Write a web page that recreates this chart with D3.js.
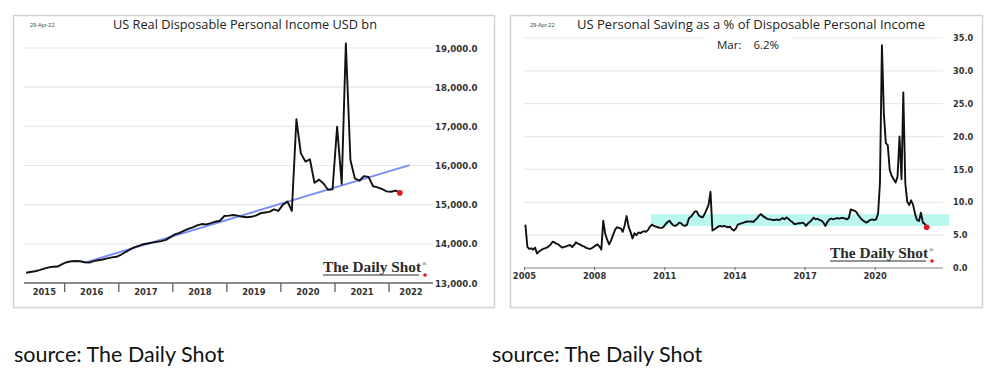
<!DOCTYPE html>
<html>
<head>
<meta charset="utf-8">
<script src="https://cdn.jsdelivr.net/npm/d3@7"></script>
<style>
  html, body { margin: 0; padding: 0; background: #ffffff; }
  svg { display: block; }
</style>
</head>
<body>
<svg id="chart" width="1000" height="381"></svg>
<script>
// ---------------- DATA ----------------
// Left chart: US Real Disposable Personal Income (USD bn), monthly Apr 2015 - Mar 2022
const incomeStart = [2015, 3]; // April 2015 (month index 3)
const incomeValues = [
  // 2015 Apr-Dec
  13263, 13280, 13300, 13330, 13365, 13400, 13416, 13420, 13480,
  // 2016
  13530, 13555, 13560, 13555, 13530, 13520, 13560, 13580, 13600, 13630, 13655, 13670,
  // 2017
  13720, 13790, 13850, 13910, 13950, 13990, 14010, 14030, 14050, 14070, 14100, 14170,
  // 2018
  14240, 14280, 14330, 14380, 14420, 14470, 14505, 14497, 14530, 14565, 14590, 14710,
  // 2019
  14720, 14735, 14720, 14690, 14680, 14690, 14720, 14780, 14800, 14815, 14880, 14840,
  // 2020
  15000, 15080, 14840, 17180, 16310, 16100, 16160, 15560, 15640, 15540, 15380, 15390,
  // 2021
  16990, 15530, 19115, 16140, 15670, 15610, 15730, 15710, 15470, 15440, 15400, 15340,
  // 2022 Jan-Mar
  15330, 15360, 15300
];
const trendDates = ["2016-05-15", "2022-05-20"];
const trendValues = [13520, 16010];
const incomeYTicks = [13000, 14000, 15000, 16000, 17000, 18000, 19000];
const incomeYears = [2015, 2016, 2017, 2018, 2019, 2020, 2021, 2022];

// Right chart: US Personal Saving Rate (%), monthly Jan 2005 - Mar 2022
const savingStart = [2005, 0];
const savingValues = [
  // 2005
  6.6, 3.2, 2.9, 3.0, 2.8, 3.1, 2.2, 2.5, 2.7, 2.9, 3.0, 3.1,
  // 2006
  3.3, 3.6, 4.0, 3.9, 3.7, 3.6, 3.3, 3.1, 3.2, 3.3, 3.4, 3.5,
  // 2007
  3.2, 3.5, 3.9, 3.7, 3.6, 3.4, 3.3, 3.1, 3.0, 2.9, 3.0, 3.2,
  // 2008
  3.4, 3.6, 3.3, 2.8, 7.2, 5.2, 4.3, 3.6, 4.2, 5.0, 5.8, 6.2,
  // 2009
  6.1, 6.0, 5.5, 6.5, 7.9, 6.3, 5.5, 4.5, 5.3, 5.0, 5.4, 5.3,
  // 2010
  5.5, 5.6, 5.5, 5.8, 6.3, 6.6, 6.4, 6.3, 6.2, 6.1, 6.1, 6.3,
  // 2011
  6.7, 7.0, 7.2, 6.8, 6.5, 6.4, 6.6, 6.9, 6.8, 6.5, 6.4, 6.6,
  // 2012
  7.6, 7.8, 8.2, 8.6, 8.6, 8.0, 7.8, 7.7, 8.2, 8.9, 9.6, 11.6,
  // 2013
  5.7, 5.9, 6.1, 6.3, 6.4, 6.3, 6.4, 6.3, 6.2, 6.3, 5.9, 5.7,
  // 2014
  6.0, 6.6, 6.7, 6.8, 6.9, 7.0, 7.1, 7.05, 7.1, 7.0, 7.3, 7.6,
  // 2015
  8.0, 8.2, 7.9, 7.7, 7.5, 7.4, 7.4, 7.3, 7.3, 7.4, 7.3, 7.4,
  // 2016
  7.6, 7.4, 7.7, 7.5, 7.2, 7.0, 6.7, 6.7, 6.8, 6.8, 6.9, 6.8,
  // 2017
  6.4, 6.8, 7.0, 7.3, 7.65, 7.4, 7.5, 7.3, 7.2, 6.9, 6.4, 7.0,
  // 2018
  7.4, 7.5, 7.4, 7.5, 7.6, 7.5, 7.6, 7.6, 7.55, 7.4, 7.6, 8.9,
  // 2019
  8.8, 8.7, 8.5, 8.0, 7.6, 7.3, 7.1, 6.9, 7.1, 7.3, 7.4, 7.3,
  // 2020
  7.4, 8.3, 12.9, 33.9, 23.5, 19.0, 18.7, 14.9, 14.0, 13.5, 13.0, 13.9,
  // 2021
  20.0, 13.5, 26.7, 12.9, 10.1, 9.6, 10.3, 9.6, 8.2, 7.3, 7.15, 8.4,
  // 2022
  6.9, 6.7, 6.2
];
const bandDates = ["2010-05-31", "2023-03-01"];
const bandRange = [6.4, 8.2];
const savingYTicks = [0, 5, 10, 15, 20, 25, 30, 35];
const savingXTicks = [2005, 2008, 2011, 2014, 2017, 2020];

// ---------------- HELPERS ----------------
function monthlySeries(start, values) {
  return values.map((v, i) => ({ date: new Date(start[0], start[1] + i, 15), value: v }));
}
const svg = d3.select("#chart");

function panel(x0, y0, x1, y1) {
  svg.append("rect")
    .attr("x", x0 + 0.5).attr("y", y0 + 0.5)
    .attr("width", x1 - x0).attr("height", y1 - y0)
    .attr("fill", "#ffffff").attr("stroke", "#d4d4d4").attr("stroke-width", 1.5);
}

function dailyShot(x, y) {
  const g = svg.append("g");
  g.append("text")
    .attr("x", x).attr("y", y)
    .attr("font-family", "Liberation Serif, serif")
    .attr("font-weight", "bold")
    .attr("font-size", 15).attr("fill", "#2b2b2b")
    .attr("textLength", 98).attr("lengthAdjust", "spacingAndGlyphs")
    .text("The Daily Shot");
  g.append("text")
    .attr("x", x + 99).attr("y", y - 6)
    .attr("font-family", "Liberation Serif, serif")
    .attr("font-size", 6).attr("fill", "#2b2b2b")
    .text("®");
  g.append("line")
    .attr("x1", x).attr("x2", x + 96)
    .attr("y1", y + 3).attr("y2", y + 3)
    .attr("stroke", "#2b2b2b").attr("stroke-width", 1);
  g.append("circle")
    .attr("cx", x + 102).attr("cy", y + 3)
    .attr("r", 1.8).attr("fill", "#e8161b");
}

// ---------------- LEFT CHART ----------------
panel(13, 15, 494, 307);
const incomeData = monthlySeries(incomeStart, incomeValues);
const xL = d3.scaleTime().domain([new Date(2015, 3, 1), new Date(2022, 9, 25)]).range([24, 433]);
const yL = d3.scaleLinear().domain([13000, 19000]).range([283, 48]);

svg.append("g").selectAll("line")
  .data(incomeYTicks.filter(d => d > 13000))
  .join("line")
  .attr("x1", 24).attr("x2", 433)
  .attr("y1", d => yL(d)).attr("y2", d => yL(d))
  .attr("stroke", "#e9e9e9").attr("stroke-width", 1.2);

svg.append("g").selectAll("text")
  .data(incomeYTicks)
  .join("text")
  .attr("x", 435).attr("y", d => yL(d) + 3.5)
  .attr("font-family", "DejaVu Sans, sans-serif").attr("font-weight", "bold")
  .attr("font-size", 8.6).attr("fill", "#333")
  .text(d => d3.format(",.1f")(d));

// x axis
svg.append("line").attr("x1", 24).attr("x2", 433)
  .attr("y1", yL(13000)).attr("y2", yL(13000))
  .attr("stroke", "#666").attr("stroke-width", 1.3);
const yearBounds = incomeYears.slice(1).map(y => new Date(y, 0, 1));
svg.append("g").selectAll("line")
  .data(yearBounds).join("line")
  .attr("x1", d => xL(d)).attr("x2", d => xL(d))
  .attr("y1", yL(13000)).attr("y2", yL(13000) + 9)
  .attr("stroke", "#555").attr("stroke-width", 1.2);
svg.append("g").selectAll("text")
  .data(incomeYears).join("text")
  .attr("x", y => {
    const a = Math.max(xL(new Date(y, 0, 1)), 24);
    const b = Math.min(xL(new Date(y + 1, 0, 1)), 433);
    return (a + b) / 2;
  })
  .attr("y", 295)
  .attr("text-anchor", "middle")
  .attr("font-family", "DejaVu Sans, sans-serif").attr("font-weight", "bold")
  .attr("font-size", 8.4).attr("fill", "#333")
  .text(d => d);

// trend
svg.append("line")
  .attr("x1", xL(new Date(trendDates[0]))).attr("x2", xL(new Date(trendDates[1])))
  .attr("y1", yL(trendValues[0])).attr("y2", yL(trendValues[1]))
  .attr("stroke", "#7b8cf2").attr("stroke-width", 2);

// line
svg.append("path").datum(incomeData)
  .attr("fill", "none").attr("stroke", "#111").attr("stroke-width", 1.9)
  .attr("stroke-linejoin", "round")
  .attr("d", d3.line().x(d => xL(d.date)).y(d => yL(d.value)));
const lastL = incomeData[incomeData.length - 1];
svg.append("circle").attr("cx", xL(lastL.date)).attr("cy", yL(lastL.value))
  .attr("r", 2.8).attr("fill", "#e8161b");

// titles
svg.append("text").attr("x", 30).attr("y", 27)
  .attr("font-family", "Liberation Sans, sans-serif").attr("font-size", 5.5).attr("fill", "#444")
  .text("29-Apr-22");
svg.append("text").attr("x", 113).attr("y", 29)
  .attr("font-family", "Open Sans, sans-serif").attr("font-size", 13).attr("fill", "#222")
  .attr("textLength", 264).attr("lengthAdjust", "spacingAndGlyphs")
  .text("US Real Disposable Personal Income USD bn");
dailyShot(323, 272);

// ---------------- RIGHT CHART ----------------
panel(510, 15, 982, 307);
const savingData = monthlySeries(savingStart, savingValues);
const xR = d3.scaleTime().domain([new Date(2005, 0, 1), new Date(2022, 10, 25)]).range([524.5, 943]);
const yR = d3.scaleLinear().domain([0, 35]).range([268, 38]);

svg.append("g").selectAll("line")
  .data(savingYTicks.filter(d => d > 0))
  .join("line")
  .attr("x1", 524).attr("x2", 943)
  .attr("y1", d => yR(d)).attr("y2", d => yR(d))
  .attr("stroke", "#e9e9e9").attr("stroke-width", 1.2);

svg.append("g").selectAll("text")
  .data(savingYTicks).join("text")
  .attr("x", 953).attr("y", d => yR(d) + 3.2)
  .attr("font-family", "DejaVu Sans, sans-serif").attr("font-weight", "bold")
  .attr("font-size", 8.2).attr("fill", "#333")
  .text(d => d3.format(".1f")(d));

// band
svg.append("rect")
  .attr("x", xR(new Date(bandDates[0])))
  .attr("width", xR(new Date(bandDates[1])) - xR(new Date(bandDates[0])))
  .attr("y", yR(bandRange[1]))
  .attr("height", yR(bandRange[0]) - yR(bandRange[1]))
  .attr("fill", "#b9f7ef");

// x axis
svg.append("line").attr("x1", 524).attr("x2", 943)
  .attr("y1", yR(0)).attr("y2", yR(0))
  .attr("stroke", "#888").attr("stroke-width", 1.2);
svg.append("g").selectAll("line")
  .data(savingXTicks).join("line")
  .attr("x1", d => xR(new Date(d, 0, 1))).attr("x2", d => xR(new Date(d, 0, 1)))
  .attr("y1", yR(0) - 1).attr("y2", yR(0) + 2)
  .attr("stroke", "#666").attr("stroke-width", 1);
svg.append("g").selectAll("text")
  .data(savingXTicks).join("text")
  .attr("x", d => xR(new Date(d, 0, 1)))
  .attr("y", 278.5)
  .attr("text-anchor", "middle")
  .attr("font-family", "DejaVu Sans, sans-serif").attr("font-weight", "bold")
  .attr("font-size", 8.4).attr("fill", "#333")
  .text(d => d);

// line
svg.append("path").datum(savingData)
  .attr("fill", "none").attr("stroke", "#111").attr("stroke-width", 1.9)
  .attr("stroke-linejoin", "round")
  .attr("d", d3.line().x(d => xR(d.date)).y(d => yR(d.value)));
const lastR = savingData[savingData.length - 1];
svg.append("circle").attr("cx", xR(lastR.date)).attr("cy", yR(lastR.value))
  .attr("r", 2.8).attr("fill", "#e8161b");

// titles / annotation
svg.append("text").attr("x", 530).attr("y", 27)
  .attr("font-family", "Liberation Sans, sans-serif").attr("font-size", 5.5).attr("fill", "#444")
  .text("29-Apr-22");
svg.append("text").attr("x", 577).attr("y", 29)
  .attr("font-family", "Open Sans, sans-serif").attr("font-size", 13).attr("fill", "#222")
  .attr("textLength", 348).attr("lengthAdjust", "spacingAndGlyphs")
  .text("US Personal Saving as a % of Disposable Personal Income");
svg.append("rect").attr("x", 705).attr("y", 33).attr("width", 87).attr("height", 18).attr("fill", "#fff");
svg.append("text").attr("x", 717).attr("y", 49)
  .attr("font-family", "Open Sans, sans-serif").attr("font-size", 11.5).attr("fill", "#222")
  .attr("xml:space", "preserve")
  .text("Mar:    6.2%");
dailyShot(830, 258);

// ---------------- SOURCES ----------------
svg.append("text").attr("x", 14).attr("y", 362)
  .attr("font-family", "Lato, sans-serif").attr("font-size", 21.5).attr("fill", "#111")
  .text("source: The Daily Shot");
svg.append("text").attr("x", 492).attr("y", 362)
  .attr("font-family", "Lato, sans-serif").attr("font-size", 21.5).attr("fill", "#111")
  .text("source: The Daily Shot");
</script>
</body>
</html>
